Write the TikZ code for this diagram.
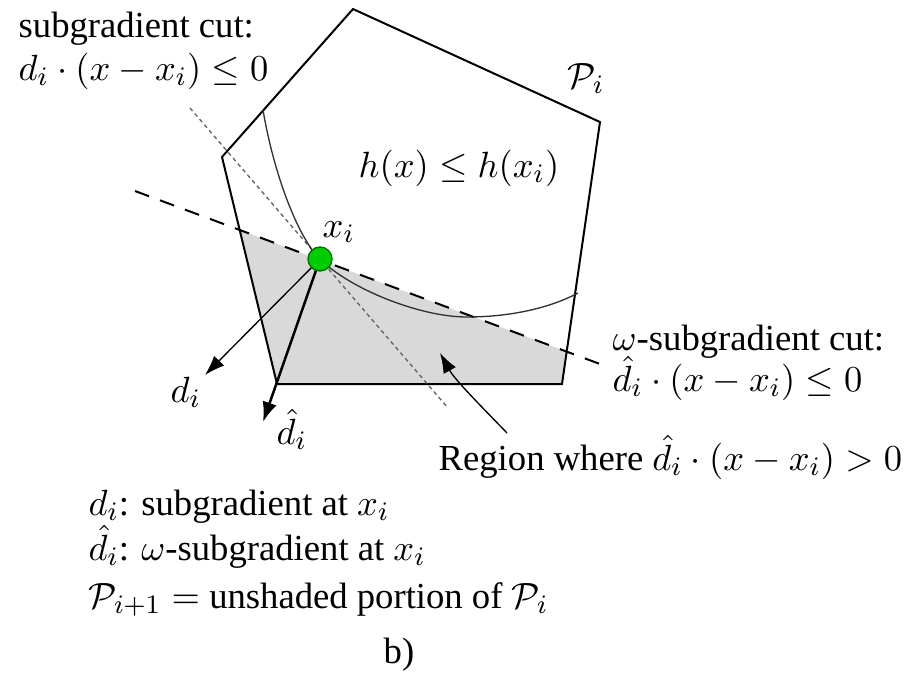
\documentclass[tikz,border=0pt]{standalone}
\usepackage[no-math]{fontspec}
\setmainfont{Liberation Serif}
\usetikzlibrary{arrows.meta}
\definecolor{shadegray}{RGB}{217,217,217}
\definecolor{dotgreen}{RGB}{0,205,0}
\definecolor{dotedge}{RGB}{0,110,0}
\definecolor{curvegray}{RGB}{50,50,50}
\definecolor{dotlinegray}{RGB}{100,100,100}
\begin{document}
\begin{tikzpicture}[x=0.3pt,y=-0.3pt,
  lbl/.style={anchor=base west, inner sep=0pt, font=\fontsize{11}{13}\selectfont},
  polyline/.style={line width=0.6pt, line join=miter},
  cutdash/.style={line width=0.6pt, dash pattern=on 4.5pt off 3.5pt},
  cutdot/.style={line width=0.4pt, dotlinegray, dash pattern=on 1.2pt off 1pt},
  levelcurve/.style={line width=0.4pt, curvegray},
  thinarrow/.style={line width=0.4pt, -{Latex[length=6pt,width=4.2pt]}},
  thickarrow/.style={line width=0.75pt, -{Latex[length=6pt,width=4.4pt]}},
  dotnode/.style={circle, fill=dotgreen, draw=dotedge, line width=0.4pt, minimum size=7.2pt, inner sep=0pt}]
\useasboundingbox (0,0) rectangle (907,674);
% polygon vertices
\coordinate (T) at (353,9);
\coordinate (RT) at (600,122);
\coordinate (RB) at (562,384);
\coordinate (LB) at (277,384);
\coordinate (LT) at (222,157);
% cut lines
\coordinate (dA) at (135,191);
\coordinate (dB) at (600,364);
\coordinate (sA) at (190,108);
\coordinate (sB) at (448,408);
\coordinate (pL) at (intersection of LT--LB and dA--dB);
\coordinate (pR) at (intersection of RT--RB and dA--dB);
% shaded region
\fill[shadegray] (pL) -- (LB) -- (RB) -- (pR) -- cycle;
% polygon
\draw[polyline] (T) -- (RT) -- (RB) -- (LB) -- (LT) -- cycle;
% subgradient cut (dotted)
\draw[cutdot] (sA) -- (sB);
% omega-subgradient cut (dashed)
\draw[cutdash] (dA) -- (dB);
% level curve
\coordinate (cA) at (263,110);
\coordinate (cM) at (320,259);
\coordinate (cL) at (467,317);
\coordinate (cB) at (578,293);
\draw[levelcurve] (cA) .. controls (275,180) and (300,240) .. (cM)
  .. controls (350,289) and (420,317) .. (cL)
  .. controls (510,317) and (550,308) .. (cB);
% arrows
\coordinate (dtip) at (205,375);
\coordinate (dhtip) at (263,422);
\draw[thinarrow] (cM) -- (dtip);
\draw[thickarrow] (cM) -- (dhtip);
\coordinate (rtail) at (507,433);
\coordinate (rhead) at (440,353);
\draw[thinarrow] (rtail) .. controls (480,405) and (455,380) .. (rhead);
% point x_i
\node[dotnode] (xi) at (320,259) {};
% labels
\node[lbl] (t1) at (18,37) {subgradient cut:};
\node[lbl] (t2) at (18,80) {$d_i\cdot(x-x_i)\le 0$};
\node[lbl] (Pi) at (567,88) {$\mathcal{P}_i$};
\node[lbl] (hx) at (358,177) {$h(x)\le h(x_i)$};
\node[lbl] (xil) at (322,237) {$x_i$};
\node[lbl] (dl) at (170,402) {$d_i$};
\node[lbl] (dhl) at (276,444) {$\smash{\hat d_i}$};
\node[lbl] (w1) at (612,350) {$\omega$-subgradient cut:};
\node[lbl] (w2) at (612,391) {$\smash{\hat d_i}\cdot(x-x_i)\le 0$};
\node[lbl] (reg) at (438,470) {Region where $\smash{\hat d_i}\cdot(x-x_i)>0$};
\node[lbl] (b1) at (88,515) {$d_i$: subgradient at $x_i$};
\node[lbl] (b2) at (88,560) {$\smash{\hat d_i}$: $\omega$-subgradient at $x_i$};
\node[lbl] (b3) at (88,608) {$\mathcal{P}_{i+1}=$ unshaded portion of $\mathcal{P}_i$};
\node[lbl] (bb) at (383,663) {b)};
\end{tikzpicture}
\end{document}
